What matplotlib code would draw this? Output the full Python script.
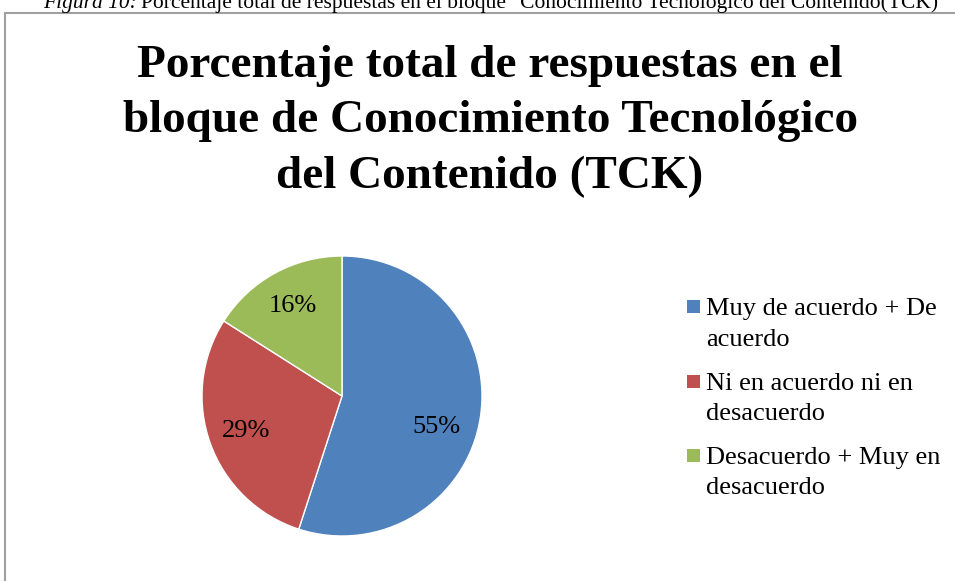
import numpy as np
import matplotlib.pyplot as plt
from matplotlib.patches import Rectangle

plt.rcParams['font.family'] = ['Liberation Serif', 'DejaVu Serif']

labels = ['Muy de acuerdo + De\nacuerdo', 'Ni en acuerdo ni en\ndesacuerdo', 'Desacuerdo + Muy en\ndesacuerdo']
values = [55, 29, 16]
colors = ['#4F81BD', '#C0504D', '#9BBB59']

title_lines = ['Porcentaje total de respuestas en el',
               'bloque de Conocimiento Tecnológico',
               'del Contenido (TCK)']
cap_it = 'Figura 10:'
cap_rest = 'Porcentaje total de respuestas en el bloque "Conocimiento Tecnológico del Contenido(TCK)'

W, H = 955, 581
fig = plt.figure(figsize=(W / 100, H / 100), dpi=100)

# chart frame (cut off at right and bottom like the screenshot)
fig.patches.append(Rectangle((5 / W, -0.1), 1.1, (H - 13) / H + 0.1,
                             transform=fig.transFigure, fill=False,
                             edgecolor='#A0A0A0', linewidth=1.5, clip_on=False))

# caption above the frame (partly cut off at the top, as in the screenshot)
t1 = fig.text(43 / W, 1 - 8 / H, cap_it, fontsize=15.5, style='italic', ha='left', va='baseline')
fig.canvas.draw()
bb = t1.get_window_extent()
fig.text((bb.x1 + 4) / W, 1 - 8 / H, cap_rest, fontsize=15.5, ha='left', va='baseline')

# title, one line at a time
for line, base in zip(title_lines, [77, 132, 188]):
    fig.text(490 / W, 1 - base / H, line, fontsize=34, fontweight='bold',
             ha='center', va='baseline')

cx, cy, r = 342, H - 396, 140
ax = fig.add_axes([(cx - r) / W, (cy - r) / H, 2 * r / W, 2 * r / H])
wedges, texts, autotexts = ax.pie(values, colors=colors, startangle=90, counterclock=False,
                                  autopct='%d%%', pctdistance=0.73,
                                  wedgeprops=dict(edgecolor='white', linewidth=1),
                                  textprops=dict(fontsize=19))
# Excel nudges the big slice label a bit lower
a = np.deg2rad(-18)
autotexts[0].set_position((0.71 * np.cos(a), 0.71 * np.sin(a)))
ax.set_xlim(-1, 1)
ax.set_ylim(-1, 1)
ax.set_aspect('equal')

# legend drawn by hand so the marker sits on the first line
ly = [308, 383, 457]
for lab, col, y in zip(labels, colors, ly):
    fig.patches.append(Rectangle((687 / W, 1 - (y + 5) / H), 13 / W, 13 / H,
                                 transform=fig.transFigure, facecolor=col, edgecolor='none'))
    fig.text(706 / W, 1 - (y - 10) / H, lab, fontsize=19, ha='left', va='top',
             linespacing=1.5)

fig.savefig('out.png', dpi=100)
